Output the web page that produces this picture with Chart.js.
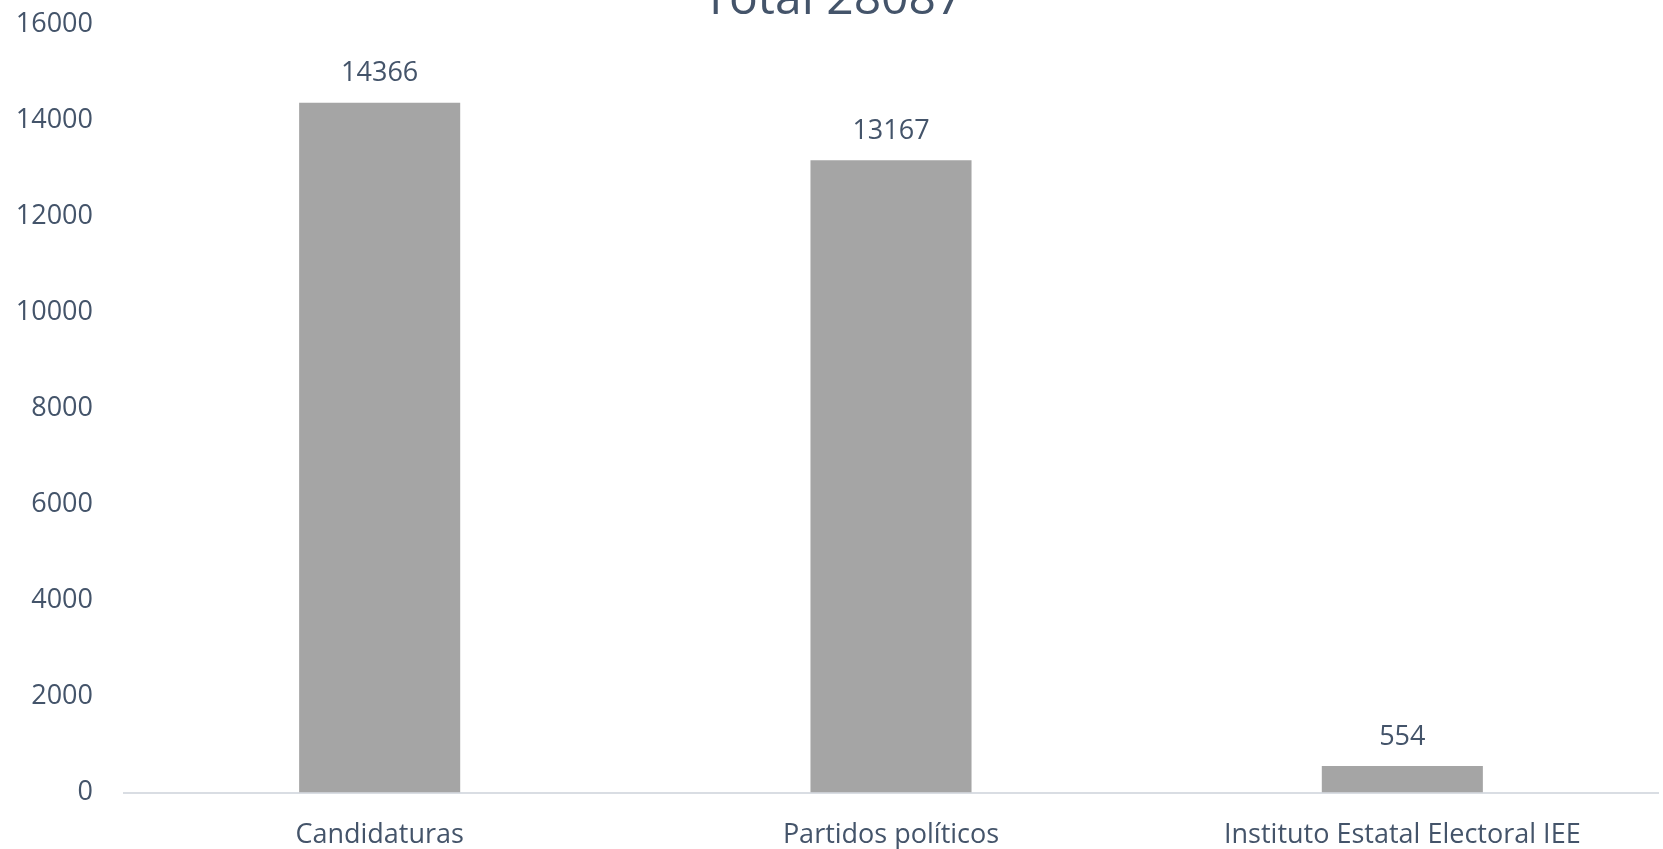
<!DOCTYPE html>
<html lang="es">
  <head>
    <meta charset="UTF-8" />
    <script src="https://cdn.jsdelivr.net/npm/chart.js@4.4.0/dist/chart.umd.min.js"></script>
    <title>Total 28087</title>
    <style>
      html, body {
        margin: 0;
        padding: 0;
        background: #fff;
        overflow: hidden;
        height: 849px;
      }
      /* the source picture is a crop: the title runs off the top edge */
      .container {
        position: relative;
        width: 1663px;
        height: 919px;
        margin-top: -40px;
      }
    </style>
  </head>
  <body>
    <div class="container">
      <canvas id="chart"></canvas>
    </div>
    <script>
      const categories = ['Candidaturas', 'Partidos políticos', 'Instituto Estatal Electoral IEE']
      const values = [14366, 13167, 554]
      const yTicks = [0, 2000, 4000, 6000, 8000, 10000, 12000, 14000, 16000]
      const titleText = 'Total 28087'

      const textColor = '#44546a'
      const fontFamily = "'Open Sans', sans-serif"

      const valueLabels = {
        id: 'valueLabels',
        afterDatasetsDraw(chart) {
          const ctx = chart.ctx
          const meta = chart.getDatasetMeta(0)
          ctx.save()
          ctx.font = '27px ' + fontFamily
          ctx.fillStyle = textColor
          ctx.textAlign = 'center'
          ctx.textBaseline = 'middle'
          meta.data.forEach((bar, i) => {
            ctx.fillText(String(values[i]), bar.x, bar.y - 29)
          })
          ctx.restore()
        },
      }

      new Chart(document.getElementById('chart'), {
        type: 'bar',
        data: {
          labels: categories,
          datasets: [
            {
              data: values,
              backgroundColor: '#a5a5a5',
              borderWidth: 0,
              barPercentage: 0.315,
              categoryPercentage: 1,
            },
          ],
        },
        options: {
          responsive: true,
          maintainAspectRatio: false,
          animation: false,
          layout: {
            padding: { top: 0, left: 8, right: 5, bottom: 0 },
          },
          plugins: {
            legend: { display: false },
            title: {
              display: true,
              text: titleText,
              color: textColor,
              font: { family: fontFamily, size: 48, weight: 'normal', lineHeight: 0.92 },
              padding: { top: 18, bottom: 2 },
            },
            tooltip: { enabled: false },
          },
          scales: {
            x: {
              grid: { display: false, drawTicks: false },
              border: { display: true, color: '#d9dde3', width: 2 },
              ticks: {
                color: textColor,
                font: { family: fontFamily, size: 27 },
                padding: 27,
                maxRotation: 0,
              },
            },
            y: {
              min: 0,
              max: 16000,
              afterBuildTicks: (scale) => {
                scale.ticks = yTicks.map((v) => ({ value: v }))
              },
              afterFit: (scale) => {
                scale.width = 116
              },
              grid: { display: false, drawTicks: false },
              border: { display: false },
              ticks: {
                color: textColor,
                font: { family: fontFamily, size: 27 },
                padding: 31,
                callback: (v) => String(v),
              },
            },
          },
        },
        plugins: [valueLabels],
      })
    </script>
  </body>
</html>
